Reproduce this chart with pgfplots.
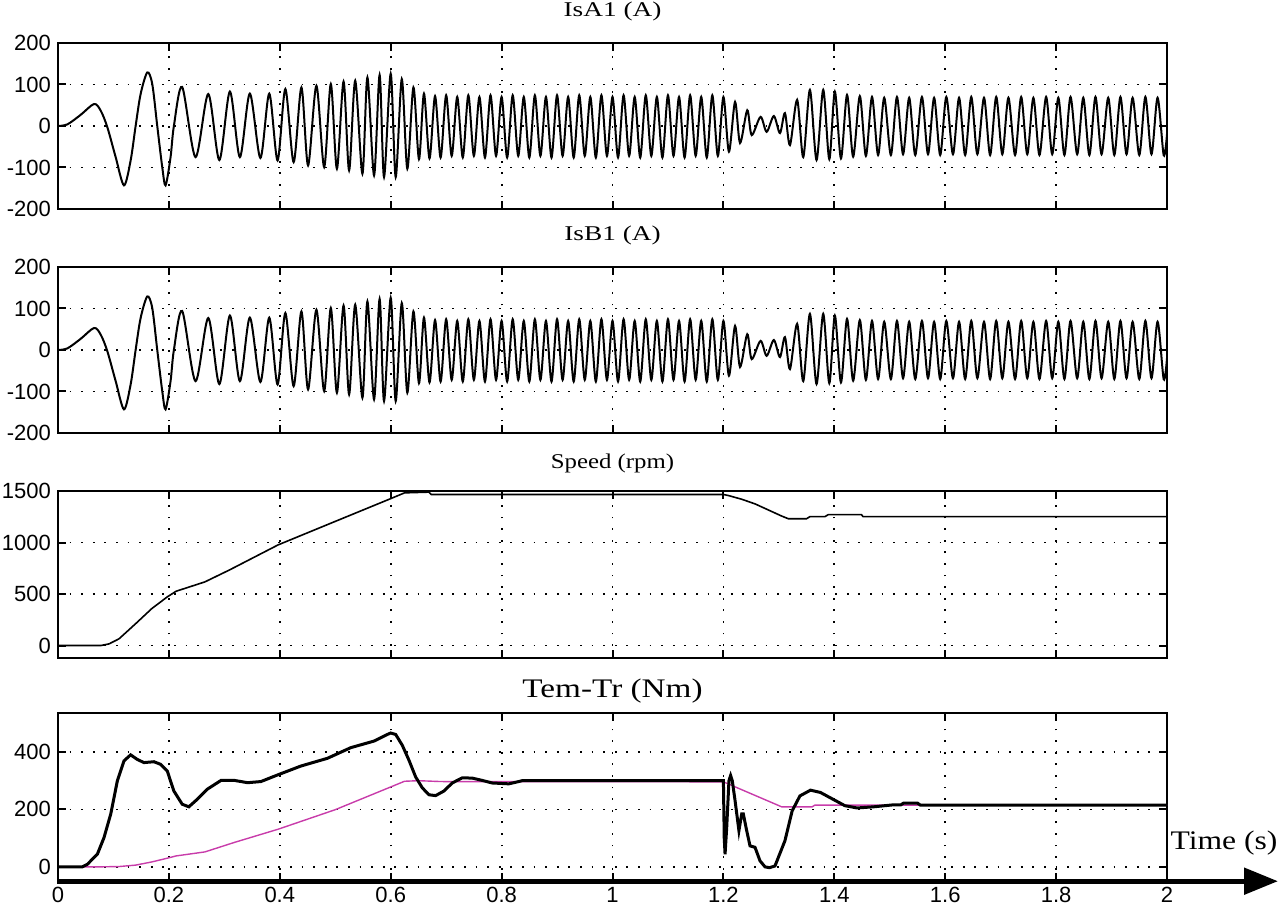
\documentclass[border=0pt]{standalone}
\usepackage{fontspec}
\setmainfont{Liberation Serif}
\newfontfamily\ticksf{Liberation Sans}
\usepackage{graphicx}
\usepackage{pgfplots}
\pgfplotsset{compat=1.18}
\usepackage{pgfplotstable}
\usetikzlibrary{arrows.meta}
\definecolor{trmag}{RGB}{200,60,170}

\pgfplotstableread{
t v
0 0
0.017 4
0.041 27
0.065 53
0.077 37
0.089 -3
0.104 -75
0.119 -143
0.131 -83
0.140 0
0.149 77
0.161 129
0.170 101
0.179 0
0.188 -99
0.194 -143
0.203 -75
0.209 0
0.224 94
0.248 -75
0.271 77
0.291 -82
0.310 83
0.328 -75
0.346 78
0.365 -77
0.381 78
0.396 -83
0.410 89
0.425 -87
0.439 93
0.451 -95
0.466 97
0.480 -99
0.492 101
0.503 -103
0.515 107
0.525 -107
0.536 109
0.549 -115
0.558 117
0.570 -119
0.580 123
0.588 -123
0.600 126
0.609 -123
0.620 113
0.630 -103
0.641 93
0.651 -80
0.660 78
0.670 -78
0.680 72
0.690 -76
0.700 74
0.710 -72
0.720 70
0.730 -76
0.740 74
0.750 -72
0.760 70
0.770 -76
0.780 74
0.790 -72
0.800 70
0.810 -76
0.820 74
0.830 -72
0.840 70
0.850 -76
0.860 74
0.870 -72
0.880 70
0.890 -76
0.900 74
0.910 -72
0.920 70
0.930 -76
0.940 74
0.950 -72
0.960 70
0.970 -76
0.980 74
0.990 -72
1.000 70
1.010 -76
1.020 74
1.030 -72
1.040 70
1.050 -76
1.060 74
1.070 -72
1.080 70
1.090 -76
1.100 74
1.110 -72
1.120 70
1.130 -76
1.140 74
1.150 -72
1.160 70
1.170 -76
1.180 74
1.190 -72
1.200 70
1.210 -62
1.221 58
1.230 -41
1.243 38
1.251 -22
1.267 22
1.278 -14
1.291 24
1.302 -17
1.311 31
1.320 -46
1.333 63
1.344 -75
1.356 87
1.368 -82
1.380 87
1.391 -80
1.401 83
1.412 -78
1.423 75
1.434 -74
1.446 72
1.457 -72
1.468 70
1.479 -70
1.490 68
1.502 -70
1.513 70
1.524 -68
1.535 68
1.546 -70
1.558 70
1.569 -68
1.580 68
1.591 -70
1.602 70
1.614 -68
1.625 68
1.636 -70
1.647 70
1.658 -68
1.670 68
1.681 -70
1.692 70
1.703 -68
1.714 68
1.726 -70
1.737 70
1.748 -68
1.759 68
1.770 -70
1.782 70
1.793 -68
1.804 68
1.815 -70
1.826 70
1.838 -68
1.849 68
1.860 -70
1.871 70
1.882 -68
1.894 68
1.905 -70
1.916 70
1.927 -68
1.938 68
1.950 -70
1.961 70
1.972 -68
1.983 68
1.994 -70
2.000 -20
}\curr

\pgfplotstableread{
t v
0 0
0.077 0
0.092 16
0.110 65
0.140 212
0.169 358
0.197 472
0.213 527
0.265 618
0.309 733
0.397 977
0.500 1205
0.596 1417
0.625 1482
0.669 1489
0.673 1466
1.200 1466
1.209 1456
1.233 1420
1.257 1375
1.281 1316
1.305 1257
1.317 1231
1.350 1231
1.356 1251
1.383 1251
1.389 1270
1.449 1270
1.452 1251
2.000 1251
}\speed

\pgfplotstableread{
t v
0 0
0.044 0
0.053 9
0.071 44
0.083 102
0.095 183
0.107 299
0.119 369
0.131 390
0.143 374
0.155 363
0.173 366
0.185 357
0.197 334
0.209 264
0.224 218
0.236 209
0.251 235
0.269 270
0.294 301
0.318 301
0.342 293
0.366 297
0.396 320
0.438 351
0.486 378
0.528 415
0.570 438
0.594 461
0.600 466
0.609 461
0.621 423
0.633 371
0.645 313
0.657 275
0.669 251
0.681 248
0.696 264
0.711 292
0.729 310
0.747 309
0.765 301
0.783 292
0.813 289
0.831 297
0.837 300
1.200 300
1.2015 100
1.203 44
1.206 138
1.210 300
1.213 318
1.216 300
1.221 231
1.228 126
1.233 184
1.236 184
1.242 126
1.248 73
1.257 68
1.266 21
1.275 0
1.283 -3
1.293 3
1.311 91
1.324 195
1.338 247
1.357 267
1.375 259
1.397 236
1.419 213
1.441 205
1.471 209
1.507 216
1.520 216
1.525 222
1.550 222
1.555 215
2.000 215
}\tem

\pgfplotstableread{
t v
0 0
0.077 0
0.110 1
0.140 6
0.169 17
0.197 30
0.213 38
0.265 52
0.318 85
0.397 131
0.500 199
0.596 275
0.625 298
0.650 300
0.690 297
1.200 296
1.305 209
1.360 209
1.365 215
2.000 215
}\tr

\pgfplotsset{
  base/.style={
    scale only axis, width=554.5pt, anchor=north west,
    xmin=0, xmax=2,
    xtick={0,0.2,0.4,0.6,0.8,1,1.2,1.4,1.6,1.8,2},
    grid=major,
    major grid style={black, line width=0.9pt, dash pattern=on 0.9pt off 4.9pt},
    axis line style={line width=1pt},
    every tick/.style={black, line width=1pt},
    major tick length=4pt,
    tick align=inside,
    xtick pos=both, ytick pos=both,
    tick label style={font=\ticksf\fontsize{11}{13}\selectfont},
    /pgf/number format/assume math mode=true,
    /pgf/number format/set thousands separator={},
  },
}

\begin{document}
\begin{tikzpicture}
\path[use as bounding box] (0,0) rectangle (640pt,-454pt);

\begin{axis}[base, at={(29pt,-21.5pt)}, height=83pt,
  ymin=-200, ymax=200, ytick={-200,-100,0,100,200}, xticklabels={}]
\addplot[black, line width=1pt, smooth] table[x=t,y=v] {\curr};
\end{axis}

\begin{axis}[base, at={(29pt,-133.5pt)}, height=83pt,
  ymin=-200, ymax=200, ytick={-200,-100,0,100,200}, xticklabels={}]
\addplot[black, line width=1pt, smooth] table[x=t,y=v] {\curr};
\end{axis}

\begin{axis}[base, at={(29pt,-245.5pt)}, height=83.3pt,
  ymin=-117, ymax=1500, ytick={0,500,1000,1500}, xticklabels={}]
\addplot[black, line width=0.8pt] table[x=t,y=v] {\speed};
\end{axis}

\begin{axis}[base, at={(29pt,-356.6pt)}, height=84pt,
  ymin=-50, ymax=535, ytick={0,200,400},
  xticklabel style={yshift=0.5pt}]
\addplot[trmag, line width=0.7pt] table[x=t,y=v] {\tr};
\addplot[black, line width=1.5pt] table[x=t,y=v] {\tem};
\end{axis}

\draw[line width=2.6pt, -{Triangle[length=17pt,width=13pt]}] (28.5pt,-440.6pt) -- (639pt,-440.6pt);

\node[font=\fontsize{10.5}{12}\selectfont] at (306.25pt,-5.8pt) {\scalebox{1.3}[1]{IsA1 (A)}};
\node[font=\fontsize{10.5}{12}\selectfont] at (306.25pt,-117.7pt) {\scalebox{1.3}[1]{IsB1 (A)}};
\node[font=\fontsize{10.5}{12}\selectfont] at (306.25pt,-231.5pt) {\scalebox{1.18}[1]{Speed (rpm)}};
\node[font=\fontsize{13.4}{15}\selectfont] at (306.25pt,-345.6pt) {\scalebox{1.24}[1]{Tem-Tr (Nm)}};
\node[font=\fontsize{13.4}{15}\selectfont] at (612pt,-421.5pt) {\scalebox{1.18}[1]{Time (s)}};
\end{tikzpicture}
\end{document}
